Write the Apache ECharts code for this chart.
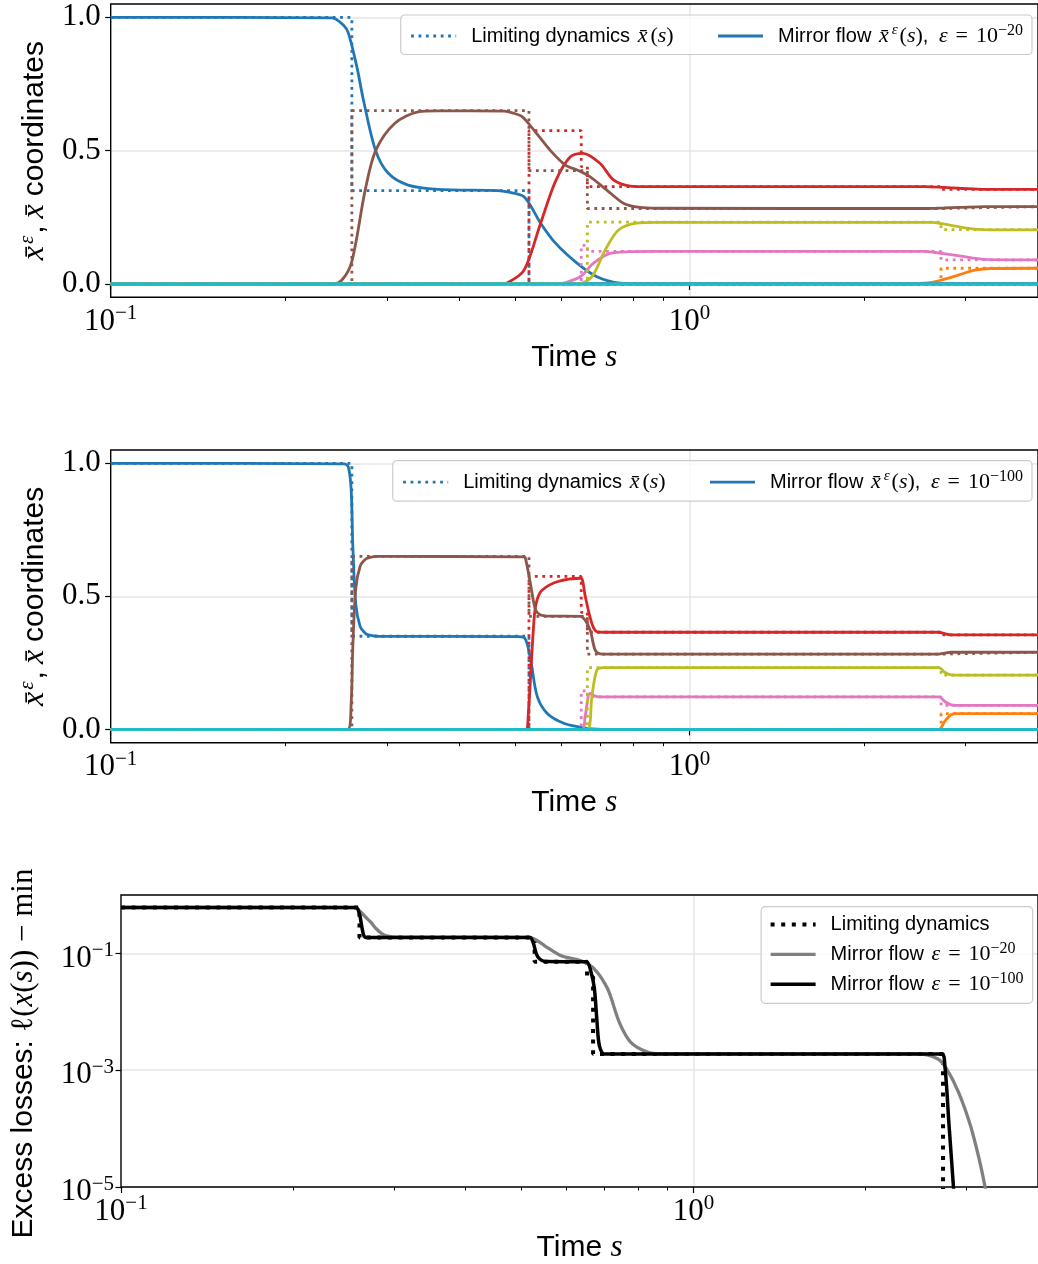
<!DOCTYPE html>
<html><head><meta charset="utf-8">
<script src="https://cdn.jsdelivr.net/npm/echarts@6.0.0/dist/echarts.min.js"></script>
<style>html,body{margin:0;padding:0;background:#fff}#chart{width:1038px;height:1264px}</style>
</head><body><div id="chart"></div>
<script>
// ================= DATA =================
const X_MIN = 0.1, X_MAX = 4;
// switching times of the limiting dynamics
const switchTimes = [0.261, 0.528, 0.650, 0.666, 2.72];
// limiting dynamics: coordinate levels in each of the 6 phases
const limBlue   = [1, 0.35, 0, 0, 0, 0];
const limOrange = [0, 0, 0, 0, 0, 0.059];
const limGreen  = [0, 0, 0, 0, 0, 0];
const limRed    = [0, 0, 0.575, 0.44, 0.365, 0.355];
const limPurple = [0, 0, 0, 0, 0, 0];
const limBrown  = [0, 0.65, 0.425, 0.425, 0.283, 0.29];
const limPink   = [0, 0, 0, 0.145, 0.122, 0.09];
const limGray   = [0, 0, 0, 0, 0, 0];
const limOlive  = [0, 0, 0, 0, 0.232, 0.204];
const limCyan   = [0, 0, 0, 0, 0, 0];

// mirror flow, eps = 1e-20  ([time s, coordinate])
const mfZero = [[0.1, 0], [4, 0]];
const mf20Blue = [[0.1,1],[0.2411,0.998],[0.2525,0.97],[0.2575,0.94],[0.2662,0.815],[0.2733,0.69],[0.2869,0.50],[0.3017,0.415],[0.3264,0.371],[0.3675,0.355],[0.4660,0.35],[0.4848,0.345],[0.5178,0.327],[0.5530,0.228],[0.5867,0.153],[0.6392,0.078],[0.6918,0.027],[0.7586,0.003],[0.8432,0],[4,0]];
const mf20Orange = [[0.1,0],[2.357,0],[2.551,0.003],[2.706,0.013],[2.929,0.035],[3.108,0.052],[3.319,0.058],[4,0.059]];
const mf20Red = [[0.1,0],[0.466,0],[0.4848,0.005],[0.5178,0.052],[0.5530,0.228],[0.5867,0.385],[0.6225,0.477],[0.6546,0.49],[0.7009,0.452],[0.7390,0.39],[0.7893,0.367],[0.8432,0.365],[2.55,0.365],[2.75,0.362],[2.929,0.359],[3.232,0.355],[4,0.355]];
const mf20Brown = [[0.1,0],[0.2411,0],[0.2509,0.015],[0.2610,0.085],[0.2751,0.35],[0.2869,0.50],[0.3097,0.6025],[0.3396,0.645],[0.3675,0.649],[0.4785,0.648],[0.4943,0.642],[0.5143,0.627],[0.5385,0.577],[0.5752,0.50],[0.6103,0.446],[0.6435,0.425],[0.6736,0.402],[0.7197,0.352],[0.7688,0.303],[0.8209,0.287],[0.8768,0.284],[2.55,0.283],[2.75,0.285],[2.929,0.287],[3.232,0.29],[4,0.29]];
const mf20Pink = [[0.1,0],[0.5906,0],[0.6064,0.003],[0.6475,0.027],[0.6826,0.078],[0.7291,0.115],[0.7893,0.121],[0.8768,0.122],[2.55,0.122],[2.653,0.118],[2.929,0.105],[3.232,0.092],[4,0.09]];
const mf20Olive = [[0.1,0],[0.6392,0],[0.6781,0.027],[0.7149,0.127],[0.7538,0.2025],[0.8103,0.228],[0.8768,0.231],[2.618,0.231],[2.76,0.224],[2.929,0.214],[3.108,0.206],[3.297,0.203],[4,0.2025]];

// mirror flow, eps = 1e-100
const mf100Blue = [[0.1,1],[0.2535,0.998],[0.2575,0.985],[0.2603,0.90],[0.2620,0.69],[0.2651,0.47],[0.2698,0.386],[0.2751,0.362],[0.2787,0.355],[0.2899,0.35],[0.5043,0.349],[0.5178,0.345],[0.5245,0.32],[0.5329,0.248],[0.5458,0.123],[0.5678,0.06],[0.6064,0.023],[0.6475,0.008],[0.6649,0.004],[0.6918,0.001],[0.72,0],[4,0]];
const mf100Orange = [[0.1,0],[2.695,0],[2.76,0.03],[2.830,0.055],[2.894,0.059],[4,0.059]];
const mf100Red = [[0.1,0],[0.5211,0],[0.5266,0.06],[0.5329,0.248],[0.5399,0.436],[0.5458,0.49],[0.5567,0.524],[0.5906,0.555],[0.6475,0.568],[0.6533,0.56],[0.6605,0.50],[0.6781,0.398],[0.6918,0.367],[0.7103,0.365],[2.695,0.365],[2.76,0.36],[2.830,0.355],[4,0.355]];
const mf100Brown = [[0.1,0],[0.2568,0],[0.2603,0.10],[0.2620,0.31],[0.2651,0.53],[0.2698,0.614],[0.2751,0.638],[0.2787,0.645],[0.2899,0.65],[0.5178,0.648],[0.5211,0.64],[0.5309,0.55],[0.5420,0.449],[0.5530,0.43],[0.5678,0.426],[0.6475,0.425],[0.6603,0.41],[0.6736,0.373],[0.6870,0.298],[0.7009,0.284],[0.7197,0.283],[2.695,0.283],[2.76,0.287],[2.830,0.29],[4,0.29]];
const mf100Pink = [[0.1,0],[0.6520,0],[0.6603,0.05],[0.6736,0.135],[0.6918,0.123],[0.7103,0.122],[2.695,0.122],[2.76,0.105],[2.830,0.092],[2.894,0.09],[4,0.09]];
const mf100Olive = [[0.1,0],[0.6649,0],[0.6781,0.123],[0.6918,0.223],[0.7103,0.232],[2.695,0.232],[2.76,0.215],[2.830,0.205],[2.894,0.204],[4,0.204]];

// excess losses
const lossSwitchTimes = [0.261, 0.528, 0.652, 0.668, 2.73];
const lossLimitLevels = [0.611, 0.188, 0.0718, 0.04, 0.0019, 0];
const LOSS_FLOOR = 1e-12; // stands in for 0 on the log axis
const lossMf20 = [[0.1,0.611],[0.2558,0.61],[0.2610,0.535],[0.2680,0.412],[0.2734,0.339],[0.2789,0.267],[0.2863,0.214],[0.2941,0.195],[0.3020,0.19],[0.5145,0.188],[0.5285,0.175],[0.55,0.135],[0.5877,0.091],[0.6365,0.0748],[0.6716,0.054],[0.7085,0.0245],[0.7423,0.0066],[0.7774,0.0030],[0.8311,0.00204],[0.8763,0.0019],[2.465,0.0019],[2.676,0.00155],[2.770,0.00105],[2.906,0.000417],[3.049,0.000112],[3.157,3.0e-5],[3.233,1.0e-5],[3.30,3e-6]];
const lossMf100 = [[0.1,0.611],[0.2574,0.61],[0.2610,0.47],[0.2633,0.296],[0.2654,0.206],[0.2680,0.188],[0.5181,0.188],[0.5248,0.154],[0.5318,0.0973],[0.5390,0.080],[0.55,0.0725],[0.6498,0.0718],[0.6627,0.0473],[0.6716,0.0245],[0.6787,0.0066],[0.6851,0.00263],[0.699,0.0019],[2.713,0.0019],[2.750,0.0012],[2.797,1.12e-4],[2.847,1e-5],[2.87,3e-6]];

const majorTicksX = [0.1, 1];
const minorTicksX = [0.2,0.3,0.4,0.5,0.6,0.7,0.8,0.9,2,3,4];
const ticksY = [0, 0.5, 1];
const ticksLossY = [1e-5, 1e-3, 1e-1];

// ================= STYLE =================
const TAB10 = ['#1f77b4','#ff7f0e','#2ca02c','#d62728','#9467bd','#8c564b','#e377c2','#7f7f7f','#bcbd22','#17becf'];
const SERIF = "'Liberation Serif','DejaVu Serif',serif";
const SANS = "'Liberation Sans','DejaVu Sans',sans-serif";
const GRID_C = '#e6e6e6', AX_C = '#000';
const XB = '\u0078\u0304'; // x with bar

const limLevels = [limBlue, limOrange, limGreen, limRed, limPurple, limBrown, limPink, limGray, limOlive, limCyan];
const mf20 = [mf20Blue, mf20Orange, mfZero, mf20Red, mfZero, mf20Brown, mf20Pink, mfZero, mf20Olive, mfZero];
const mf100 = [mf100Blue, mf100Orange, mfZero, mf100Red, mfZero, mf100Brown, mf100Pink, mfZero, mf100Olive, mfZero];

function stepData(levels, times, floor) {
  const f = v => (floor && v === 0) ? floor : v;
  const pts = [[X_MIN, f(levels[0])]];
  times.forEach((t, k) => { pts.push([t, f(levels[k])]); pts.push([t, f(levels[k + 1])]); });
  pts.push([X_MAX, f(levels[levels.length - 1])]);
  return pts;
}
function powLabel(v) {
  const e = Math.round(Math.log10(v));
  return '{b|10}{p|' + (e < 0 ? '\u2212' + (-e) : String(e)) + '}';
}
const tickRich = {
  b: {fontFamily: SERIF, fontSize: 31, lineHeight: 37, color: '#000'},
  p: {fontFamily: SERIF, fontSize: 21, lineHeight: 20, verticalAlign: 'top', color: '#000'}
};
function nameRich() {
  return {
    t: {fontFamily: SANS, fontSize: 30, lineHeight: 37, color: '#000'},
    c: {fontFamily: SANS, fontSize: 30, lineHeight: 37, color: '#000', padding: [0, 7, 0, 0]},
    w: {fontFamily: SANS, fontSize: 30, lineHeight: 37, color: '#000', padding: [0, 0, 0, 6]},
    m: {fontFamily: SERIF, fontStyle: 'italic', fontSize: 31, lineHeight: 37, color: '#000'},
    xb: {fontFamily: SERIF, fontStyle: 'italic', fontSize: 32, lineHeight: 37, color: '#000', padding: [0, 2, 0, 0]},
    r: {fontFamily: SERIF, fontSize: 31, lineHeight: 37, color: '#000'},
    e: {fontFamily: SERIF, fontStyle: 'italic', fontSize: 21, lineHeight: 20, verticalAlign: 'top', color: '#000', padding: [0, 2, 0, 0]}
  };
}
function legendRich(lead) {
  return {
    t: {fontFamily: SANS, fontSize: 20, lineHeight: 27, color: '#000', padding: [0, 5, 0, 0]},
    t0: {fontFamily: SANS, fontSize: 20, lineHeight: 27, color: '#000', padding: [0, 2, 0, lead]},
    m: {fontFamily: SERIF, fontStyle: 'italic', fontSize: 22, lineHeight: 27, color: '#000'},
    xb: {fontFamily: SERIF, fontStyle: 'italic', fontSize: 22, lineHeight: 27, color: '#000', padding: [0, 3, 0, 0]},
    r: {fontFamily: SERIF, fontSize: 22, lineHeight: 27, color: '#000'},
    q: {fontFamily: SERIF, fontSize: 22, lineHeight: 27, color: '#000', padding: [0, 8, 0, 8]},
    e: {fontFamily: SERIF, fontStyle: 'italic', fontSize: 15, lineHeight: 14, verticalAlign: 'top', color: '#000', padding: [0, 2, 0, 0]},
    e2: {fontFamily: SERIF, fontSize: 16, lineHeight: 14, verticalAlign: 'top', color: '#000'}
  };
}
const legendText = {
  lim1: '{t0|Limiting dynamics }{xb|' + XB + '}{r|(}{m|s}{r|)}',
  lim2: '{t0|Limiting dynamics }{xb|' + XB + '}{r|(}{m|s}{r|)}',
  mf20: '{t0|Mirror flow }{xb|' + XB + '}{e|\u03b5}{r|(}{m|s}{r|)}{t|, }{m|\u03b5}{q|=}{r|10}{e2|\u221220}',
  mf100: '{t0|Mirror flow }{xb|' + XB + '}{e|\u03b5}{r|(}{m|s}{r|)}{t|, }{m|\u03b5}{q|=}{r|10}{e2|\u2212100}',
  limL: '{t0|Limiting dynamics}',
  mfL20: '{t0|Mirror flow }{m|\u03b5}{q|=}{r|10}{e2|\u221220}',
  mfL100: '{t0|Mirror flow }{m|\u03b5}{q|=}{r|10}{e2|\u2212100}'
};

const grids = [
  {left: 110.7, top: 4, width: 933.2, height: 293.3},
  {left: 110.7, top: 450, width: 933.2, height: 292.7},
  {left: 120, top: 895, width: 923.3, height: 293.3}
].map(g => Object.assign(g, {show: true, borderColor: AX_C, borderWidth: 1.4, backgroundColor: 'transparent', z: 3}));

const xAxes = [], yAxes = [];
for (let g = 0; g < 3; g++) {
  xAxes.push({
    type: 'log', logBase: 10, gridIndex: g, position: 'bottom', min: X_MIN, max: X_MAX,
    axisLine: {show: false},
    axisTick: {show: true, customValues: majorTicksX, length: 6, lineStyle: {color: AX_C, width: 1.2}},
    axisLabel: {customValues: majorTicksX, formatter: powLabel, rich: tickRich, margin: 6},
    splitLine: {show: true, showMinLine: false, lineStyle: {color: GRID_C, width: 1.5}},
    minorTick: {show: false},
    name: '{t|Time }{m|s}', nameLocation: 'middle', nameGap: 42,
    nameTextStyle: {rich: nameRich()}
  });
}
for (let g = 0; g < 3; g++) {
  xAxes.push({
    type: 'log', logBase: 10, gridIndex: g, position: 'bottom', min: X_MIN, max: X_MAX,
    axisLine: {show: false},
    axisTick: {show: true, customValues: minorTicksX, length: 3.5, lineStyle: {color: AX_C, width: 1}},
    axisLabel: {show: false}, splitLine: {show: false}
  });
}
for (let g = 0; g < 2; g++) {
  yAxes.push({
    type: 'value', gridIndex: g, min: -0.05, max: 1.05,
    axisLine: {show: false},
    axisTick: {show: true, customValues: ticksY, length: 5.5, lineStyle: {color: AX_C, width: 1.2}},
    axisLabel: {customValues: ticksY, formatter: v => v.toFixed(1), fontFamily: SERIF, fontSize: 31, color: '#000', margin: 10, padding: [3, 0, 0, 0]},
    splitLine: {show: true, lineStyle: {color: GRID_C, width: 1.5}},
    name: '{xb|' + XB + '}{e|\u03b5}{c|,}{xb|' + XB + '}{w|coordinates}',
    nameLocation: 'middle', nameRotate: 90, nameGap: 53,
    nameTextStyle: {rich: nameRich()}
  });
}
yAxes.push({
  type: 'log', logBase: 10, gridIndex: 2, min: 1e-5, max: 1,
  axisLine: {show: false},
  axisTick: {show: true, customValues: ticksLossY, length: 5.5, lineStyle: {color: AX_C, width: 1.2}},
  axisLabel: {customValues: ticksLossY, formatter: powLabel, rich: tickRich, margin: 7, padding: [10, 0, 0, 0]},
  splitLine: {show: true, lineStyle: {color: GRID_C, width: 1.5}},
  name: '{t|Excess losses: }{r|\u2113(}{m|x}{r|(}{m|s}{r|)) \u2212 min}',
  nameLocation: 'middle', nameRotate: 90, nameGap: 79,
  nameTextStyle: {rich: nameRich(), padding: [0, 25, 0, 0]}
});

const series = [];
const common = {type: 'line', symbol: 'none', showSymbol: false, silent: true, animation: false, emphasis: {disabled: true}};
[mf20, mf100].forEach((mf, p) => {
  for (let i = 0; i < 10; i++) {
    series.push(Object.assign({}, common, {
      name: i === 0 ? (p === 0 ? 'lim1' : 'lim2') : ('lim' + p + '_' + i),
      xAxisIndex: p, yAxisIndex: p,
      data: stepData(limLevels[i], switchTimes),
      lineStyle: {color: TAB10[i], width: 2.8, type: [2.8, 4.6]},
      itemStyle: {color: TAB10[i]}
    }));
    series.push(Object.assign({}, common, {
      name: i === 0 ? (p === 0 ? 'mf20' : 'mf100') : ('mf' + p + '_' + i),
      xAxisIndex: p, yAxisIndex: p,
      data: mf[i], smooth: 0.3,
      lineStyle: {color: TAB10[i], width: 2.8},
      itemStyle: {color: TAB10[i]}
    }));
  }
});
series.push(Object.assign({}, common, {
  name: 'limL', xAxisIndex: 2, yAxisIndex: 2,
  data: stepData(lossLimitLevels, lossSwitchTimes, LOSS_FLOOR),
  lineStyle: {color: '#000', width: 4, type: [4, 6.6]}, itemStyle: {color: '#000'}
}));
series.push(Object.assign({}, common, {
  name: 'mfL20', xAxisIndex: 2, yAxisIndex: 2, data: lossMf20, smooth: 0.3,
  lineStyle: {color: '#808080', width: 3.3}, itemStyle: {color: '#808080'}
}));
series.push(Object.assign({}, common, {
  name: 'mfL100', xAxisIndex: 2, yAxisIndex: 2, data: lossMf100, smooth: 0.3,
  lineStyle: {color: '#000', width: 3.5}, itemStyle: {color: '#000'}
}));

const legendCommon = {
  selectedMode: false, backgroundColor: 'rgba(255,255,255,0.8)', borderColor: '#cccccc', borderWidth: 1.2, borderRadius: 4,
  itemHeight: 27, formatter: n => legendText[n], lineStyle: {width: 'inherit'}, itemStyle: {opacity: 0}
};
const legends = [
  Object.assign({}, legendCommon, {data: ['lim1', 'mf20'], right: 6, top: 15, orient: 'horizontal', itemWidth: 45, itemGap: 43, padding: [7.5, 9, 7.5, 9], textStyle: {rich: legendRich(10)}}),
  Object.assign({}, legendCommon, {data: ['lim2', 'mf100'], right: 6, top: 460.7, orient: 'horizontal', itemWidth: 45, itemGap: 43, padding: [8, 9, 8, 9], textStyle: {rich: legendRich(10)}}),
  Object.assign({}, legendCommon, {data: ['limL', 'mfL20', 'mfL100'], right: 5.4, top: 906.7, orient: 'vertical', itemWidth: 45, itemGap: 5.5, padding: [7, 9, 8, 7.5], textStyle: {rich: legendRich(10)}})
];

const chart = echarts.init(document.getElementById('chart'), null, {renderer: 'canvas'});
chart.setOption({
  animation: false,
  backgroundColor: '#fff',
  textStyle: {fontFamily: SANS},
  grid: grids, xAxis: xAxes, yAxis: yAxes, legend: legends, series: series
});
</script></body></html>
